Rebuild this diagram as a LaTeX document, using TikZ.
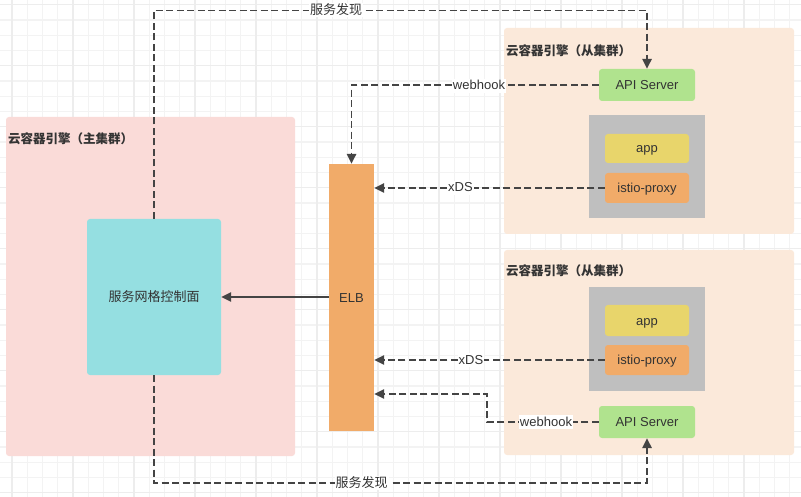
\documentclass[tikz,border=0pt]{standalone}
\usepackage{fontspec}
\setmainfont{Liberation Sans}
\newfontfamily\cjk{Noto Sans CJK SC}
\usetikzlibrary{arrows.meta}
\definecolor{gridminor}{HTML}{F3F3F3}
\definecolor{gridmajor}{HTML}{EDEDED}
\definecolor{pinkbg}{HTML}{FADBD8}
\definecolor{peachbg}{HTML}{FBE9DA}
\definecolor{cyanbox}{HTML}{95DFE1}
\definecolor{elbcol}{HTML}{F1AB69}
\definecolor{greenbox}{HTML}{B0E38E}
\definecolor{appcol}{HTML}{E8D56B}
\definecolor{greybox}{HTML}{BFBFBF}
\definecolor{txt}{HTML}{333333}
\definecolor{linecol}{HTML}{444444}
\tikzset{
  region/.style={fill=#1, draw=none, rounded corners=3pt},
  box/.style={fill=#1, draw=none, rounded corners=3pt, inner sep=0pt, text=txt, text height=10.5pt, text depth=1.5pt, font=\fontsize{13}{15}\selectfont},
  ttl/.style={anchor=west, inner sep=0pt, text=txt, font=\fontsize{12.5}{15}\selectfont\cjk\bfseries},
  lbl/.style={fill=white, inner sep=1pt, text=txt, text height=10pt, text depth=2pt, font=\fontsize{13}{15}\selectfont},
  dashline/.style={draw=linecol, line width=1.6pt, dash pattern=on 7pt off 3.5pt, -{Triangle[length=10pt,width=9.5pt]}},
  solidline/.style={draw=linecol, line width=1.6pt, -{Triangle[length=10pt,width=9.5pt]}}
}
\begin{document}
\begin{tikzpicture}[x=1pt,y=-1pt]
\useasboundingbox (0,0) rectangle (801,497);
\fill[white] (0,0) rectangle (801,497);
% grid
\foreach \i in {0,...,52} {
  \pgfmathsetmacro{\xx}{12+15.25*\i}
  \draw[gridminor, line width=1.3pt] (\xx,0) -- (\xx,497);
}
\foreach \i in {0,...,32} {
  \pgfmathsetmacro{\yy}{4.7+15.25*\i}
  \draw[gridminor, line width=1.3pt] (0,\yy) -- (801,\yy);
}
\foreach \i in {0,...,13} {
  \pgfmathsetmacro{\xx}{12+61*\i}
  \draw[gridmajor, line width=1.5pt] (\xx,0) -- (\xx,497);
}
\foreach \i in {0,...,8} {
  \pgfmathsetmacro{\yy}{4.7+61*\i}
  \draw[gridmajor, line width=1.5pt] (0,\yy) -- (801,\yy);
}
% regions
\fill[region=pinkbg] (6,117) rectangle (295,456);
\fill[region=peachbg] (504,28) rectangle (794,234);
\fill[region=peachbg] (504,250) rectangle (794,455);
\node[ttl] (tmain) at (8,139) {云容器引擎（主集群）};
\node[ttl] (tsubA) at (506,51) {云容器引擎（从集群）};
\node[ttl] (tsubB) at (506,271) {云容器引擎（从集群）};
% grey pod boxes
\fill[greybox] (589,115) rectangle (705,218);
\fill[greybox] (589,287) rectangle (705,391);
% nodes
\node[box=cyanbox, minimum width=134pt, minimum height=156pt] (cp) at (154,297) {\cjk 服务网格控制面};
\node[box=elbcol, rounded corners=0pt, minimum width=45pt, minimum height=267pt] (elb) at (351.5,297.5) {ELB};
\node[box=greenbox, minimum width=96pt, minimum height=32pt] (apiA) at (647,85) {API Server};
\node[box=appcol, minimum width=84pt, minimum height=29pt] (appA) at (647,148.5) {app};
\node[box=elbcol, minimum width=84pt, minimum height=30pt] (proxyA) at (647,188) {istio-proxy};
\node[box=appcol, minimum width=84pt, minimum height=31pt] (appB) at (647,320.5) {app};
\node[box=elbcol, minimum width=84pt, minimum height=30pt] (proxyB) at (647,360) {istio-proxy};
\node[box=greenbox, minimum width=96pt, minimum height=32pt] (apiB) at (647,422) {API Server};
% connectors
\draw[dashline] (cp.north) -- (154,10.5) -- (647,10.5) -- (apiA.north);
\draw[dashline] (apiA.west) -| (elb.north);
\draw[dashline] (proxyA.west) -- (proxyA.west -| elb.east);
\draw[solidline] (elb.west |- cp.east) -- (cp.east);
\draw[dashline] (proxyB.west) -- (proxyB.west -| elb.east);
\draw[dashline] (apiB.west) -- (487,422) -- (487,394) -- (elb.east |- 0,394);
\draw[dashline] (cp.south) -- (154,483) -- (647,483) -- (apiB.south);
% labels
\node[lbl] (l1) at (336,10.5) {\cjk 服务发现};
\node[lbl] (l2) at (479,86) {webhook};
\node[lbl] (l3) at (460.5,188) {xDS};
\node[lbl] (l4) at (471,360) {xDS};
\node[lbl] (l5) at (546,422) {webhook};
\node[lbl] (l6) at (361.5,483) {\cjk 服务发现};
\end{tikzpicture}
\end{document}
